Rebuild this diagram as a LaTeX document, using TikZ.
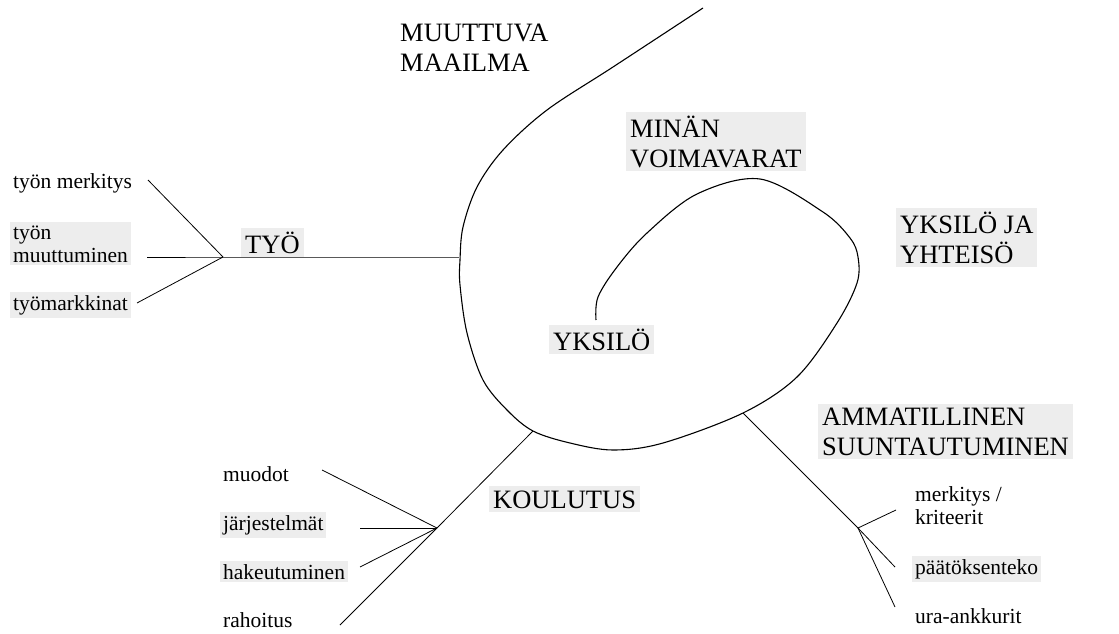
\documentclass[tikz,border=0pt]{standalone}
\usepackage{fontspec}
\setmainfont{Liberation Serif}
\usetikzlibrary{positioning}

\begin{document}
\begin{tikzpicture}[x=1pt, y=-1pt,
    bigtxt/.style={font=\fontsize{26.5}{30}\selectfont, align=left, inner sep=4pt, anchor=base west},
    smalltxt/.style={font=\fontsize{21.5}{23}\selectfont, align=left, inner sep=3pt, anchor=base west},
    halftone/.style={fill=gray!14},
    spiral/.style={line width=1.1pt, line join=round},
    branch/.style={line width=0.8pt}]
  \useasboundingbox (0,0) rectangle (1119,634);

  % big headings (base = last line)
  \node[bigtxt] (maailma) at (396,72) {MUUTTUVA\\MAAILMA};
  \node[bigtxt, halftone] (voimavarat) at (626,167) {MINÄN\\VOIMAVARAT};
  \node[bigtxt, halftone] (yhteiso) at (896,263) {YKSILÖ JA\\YHTEISÖ};
  \node[bigtxt, halftone] (yksilo) at (549,350) {YKSILÖ};
  \node[bigtxt, halftone] (tyo) at (241,253) {TYÖ};
  \node[bigtxt, halftone] (koulutus) at (489,508) {KOULUTUS};
  \node[bigtxt, halftone] (ammat) at (818,455) {AMMATILLINEN\\SUUNTAUTUMINEN};

  % small labels, left
  \node[smalltxt] (tmerk) at (10,188) {työn merkitys};
  \node[smalltxt, halftone] (tmuut) at (10,262) {työn\\muuttuminen};
  \node[smalltxt, halftone] (tmark) at (10,310) {työmarkkinat};
  % small labels, bottom left
  \node[smalltxt] (muodot) at (220,481) {muodot};
  \node[smalltxt, halftone] (jarj) at (220,530) {järjestelmät};
  \node[smalltxt, halftone] (hake) at (220,579) {hakeutuminen};
  \node[smalltxt] (rahoitus) at (220,627) {rahoitus};
  % small labels, bottom right
  \node[smalltxt] (merkitys) at (912,524) {merkitys /\\kriteerit};
  \node[smalltxt, halftone] (paatos) at (912,574) {päätöksenteko};
  \node[smalltxt] (ura) at (912,623) {ura-ankkurit};

  % the spiral
  \draw[spiral] plot[smooth, tension=0.55] coordinates {
    (703,8) (613,67) (547,110) (503,150) (477,187) (463,227) (460,260)
    (460,285) (467,333) (483,380) (507,410) (533,431) (570,443) (613,450)
    (663,443) (743,413) (797,377) (837,323) (857,283) (858,257) (850,238)
    (823,212) (760,179) (697,194) (647,233) (617,267) (598,297)
    (596,320)};

  % junctions and free ends
  \coordinate (tyoCurve) at (459,257);
  \coordinate (tyoJ) at (223,257);
  \coordinate (tmerkEnd) at (148,180);
  \coordinate (tmuutEnd) at (147,257);
  \coordinate (tmarkEnd) at (137,303);
  \coordinate (koulCurve) at (533,431);
  \coordinate (koulJ) at (437,528);
  \coordinate (rahEnd) at (340,625);
  \coordinate (muoEnd) at (322,470);
  \coordinate (jarjEnd) at (360,528);
  \coordinate (hakeEnd) at (360,567);
  \coordinate (ammCurve) at (743,413);
  \coordinate (ammJ) at (858,528);
  \coordinate (merkEnd) at (896,510);
  \coordinate (paatEnd) at (895,567);
  \coordinate (uraEnd) at (895,607);

  % TYÖ branch
  \draw[branch] (tyoCurve) -- (tyoJ) -- (tmuutEnd);
  \draw[branch] (tyoJ) -- (tmerkEnd);
  \draw[branch] (tyoJ) -- (tmarkEnd);
  % KOULUTUS branch
  \draw[branch] (koulCurve) -- (koulJ) -- (rahEnd);
  \draw[branch] (koulJ) -- (muoEnd);
  \draw[branch] (koulJ) -- (jarjEnd);
  \draw[branch] (koulJ) -- (hakeEnd);
  % AMMATILLINEN branch
  \draw[branch] (ammCurve) -- (ammJ) -- (merkEnd);
  \draw[branch] (ammJ) -- (paatEnd);
  \draw[branch] (ammJ) -- (uraEnd);
\end{tikzpicture}
\end{document}
